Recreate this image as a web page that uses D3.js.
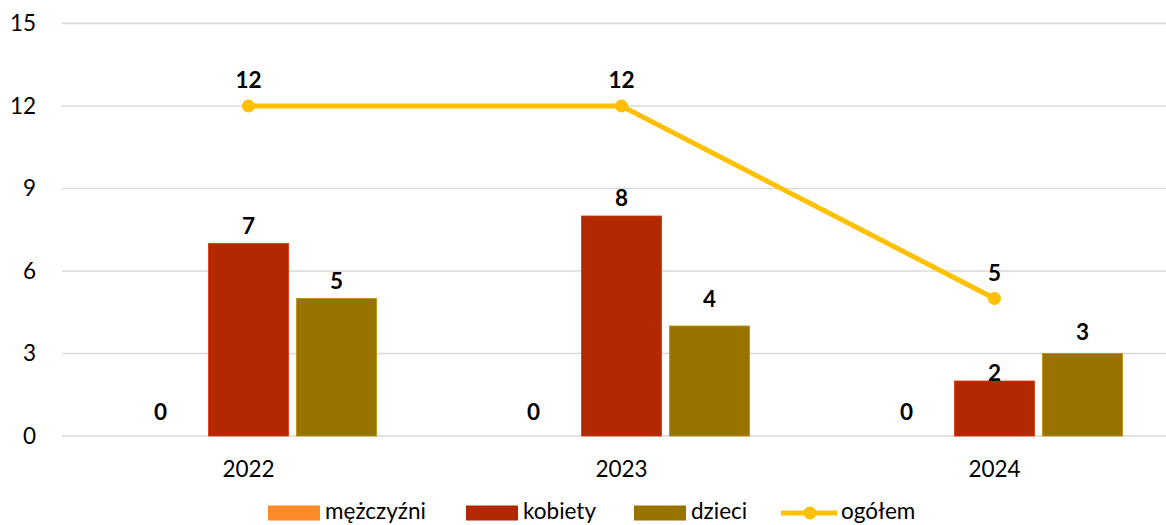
<!DOCTYPE html>
<html>
<head>
<meta charset="utf-8">
<script src="https://cdn.jsdelivr.net/npm/d3@7"></script>
<style>
  body { margin: 0; background: #fff; }
  text { font-family: Lato, "Open Sans", sans-serif; }
</style>
</head>
<body>
<svg id="chart" width="1166" height="525"></svg>
<script>
let years = ["2022", "2023", "2024"];
let seriesNames = ["mężczyźni", "kobiety", "dzieci"];
let mezczyzni = [0, 0, 0];
let kobiety = [7, 8, 2];
let dzieci = [5, 4, 3];
let ogolem = [12, 12, 5];
let yTicks = [0, 3, 6, 9, 12, 15];

let barColors = ["#FF8A28", "#B22800", "#997300"];
let lineColor = "#FFC000";

// label gap above the bar top (px), a few differ in the original
function labelGap(d)
{
    if (d.value == 0)
        return 16;
    if (d.series == "kobiety" && d.year == "2024")
        return 0;
    if (d.series == "dzieci" && d.year == "2023")
        return 19;
    if (d.series == "dzieci" && d.year == "2024")
        return 14;
    return 10;
}

let svg = d3.select("#chart");

let x = d3.scaleBand().domain(years).range([62, 1181]);
let y = d3.scaleLinear().domain([0, 15]).range([436, 23.5]);
let xInner = d3.scaleBand().domain(seriesNames).range([-128, 128]).paddingInner(8 / 88);

// gridlines
svg.append("g")
    .selectAll("line")
    .data(yTicks)
    .enter()
    .append("line")
    .attr("x1", 62)
    .attr("x2", 1166)
    .attr("y1", d => y(d))
    .attr("y2", d => y(d))
    .attr("stroke", "#d9d9d9")
    .attr("stroke-width", 1.3);

// y axis labels
let yAxis = d3.axisLeft(y).tickValues(yTicks).tickSize(0).tickPadding(0);
let yg = svg.append("g").attr("transform", "translate(36,0)").call(yAxis);
yg.select(".domain").remove();
yg.selectAll("text").attr("font-size", 22.5).attr("fill", "#000").attr("font-family", "Lato, sans-serif");

// x axis labels
let xAxis = d3.axisBottom(x).tickSize(0).tickPadding(0);
let xg = svg.append("g").attr("transform", "translate(0,461)").call(xAxis);
xg.select(".domain").remove();
xg.selectAll("text").attr("font-size", 22.5).attr("fill", "#000").attr("font-family", "Lato, sans-serif");

// bars
let barData = [];
years.forEach(function(yr, i) {
    [mezczyzni, kobiety, dzieci].forEach(function(arr, s) {
        barData.push({year: yr, series: seriesNames[s], value: arr[i], color: barColors[s]});
    });
});

let bars = svg.selectAll("g.bar")
    .data(barData)
    .enter()
    .append("g")
    .attr("class", "bar")
    .attr("transform", d => "translate(" + (x(d.year) + x.bandwidth() / 2 + xInner(d.series)) + ",0)");

bars.append("rect")
    .attr("x", 0)
    .attr("width", xInner.bandwidth())
    .attr("y", d => y(d.value))
    .attr("height", d => y(0) - y(d.value))
    .attr("fill", d => d.color)
    .attr("stroke", d => d.value > 0 ? d3.color(d.color).brighter(0.6) : "none")
    .attr("stroke-width", 0.8);

bars.append("text")
    .attr("x", xInner.bandwidth() / 2)
    .attr("y", d => y(d.value) - labelGap(d))
    .attr("text-anchor", "middle")
    .attr("font-size", 22.5)
    .attr("font-weight", "bold")
    .text(d => d.value);

// total line
let line = d3.line()
    .x((d, i) => x(years[i]) + x.bandwidth() / 2)
    .y(d => y(d));

svg.append("path")
    .datum(ogolem)
    .attr("d", line)
    .attr("fill", "none")
    .attr("stroke", lineColor)
    .attr("stroke-width", 5)
    .attr("stroke-linejoin", "round");

svg.selectAll("circle.pt")
    .data(ogolem)
    .enter()
    .append("circle")
    .attr("class", "pt")
    .attr("cx", (d, i) => x(years[i]) + x.bandwidth() / 2)
    .attr("cy", d => y(d))
    .attr("r", 6.5)
    .attr("fill", lineColor);

svg.selectAll("text.pt")
    .data(ogolem)
    .enter()
    .append("text")
    .attr("class", "pt")
    .attr("x", (d, i) => x(years[i]) + x.bandwidth() / 2)
    .attr("y", d => y(d) - 18)
    .attr("text-anchor", "middle")
    .attr("font-size", 22.5)
    .attr("font-weight", "bold")
    .text(d => d);

// legend
let legendItems = [
    {name: "mężczyźni", color: barColors[0], type: "rect", x: 268},
    {name: "kobiety", color: barColors[1], type: "rect", x: 466},
    {name: "dzieci", color: barColors[2], type: "rect", x: 634},
    {name: "ogółem", color: lineColor, type: "line", x: 781}
];

let leg = svg.selectAll("g.legend")
    .data(legendItems)
    .enter()
    .append("g")
    .attr("class", "legend")
    .attr("transform", d => "translate(" + d.x + ",513)");

leg.filter(d => d.type == "rect").append("rect")
    .attr("x", 0).attr("y", -7.5).attr("width", 52).attr("height", 15)
    .attr("fill", d => d.color);

let lineLeg = leg.filter(d => d.type == "line");
lineLeg.append("line")
    .attr("x1", 0).attr("x2", 56).attr("y1", 0).attr("y2", 0)
    .attr("stroke", d => d.color).attr("stroke-width", 5);
lineLeg.append("circle")
    .attr("cx", 29).attr("cy", 0).attr("r", 6.5)
    .attr("fill", d => d.color);

leg.append("text")
    .attr("x", d => d.type == "rect" ? 57 : 60)
    .attr("y", 0)
    .attr("dy", "0.28em")
    .attr("font-size", 22.5)
    .text(d => d.name);
</script>
</body>
</html>
